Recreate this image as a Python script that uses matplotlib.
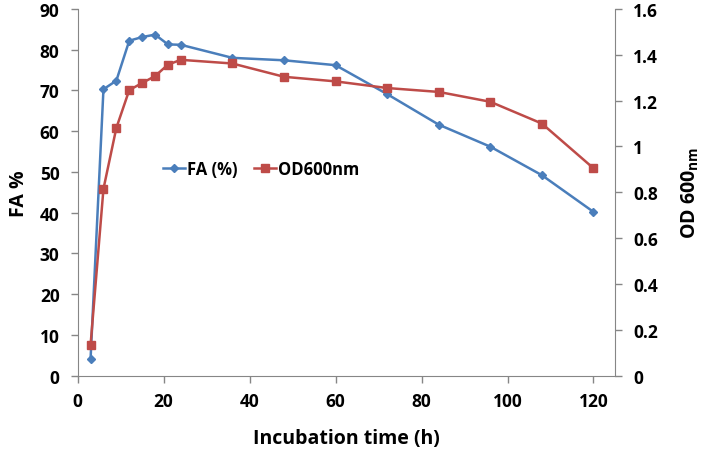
import matplotlib
matplotlib.use("Agg")
import matplotlib.pyplot as plt

time_h = [3, 6, 9, 12, 15, 18, 21, 24, 36, 48, 60, 72, 84, 96, 108, 120]
fa_pct = [4.1, 70.3, 72.4, 82.2, 83.1, 83.7, 81.3, 81.2, 78.0, 77.4, 76.2, 69.1, 61.6, 56.2, 49.2, 40.2]
od600 = [0.134, 0.815, 1.081, 1.246, 1.277, 1.307, 1.357, 1.378, 1.362, 1.304, 1.284, 1.255, 1.238, 1.195, 1.10, 0.905]

left_ticks = [0, 10, 20, 30, 40, 50, 60, 70, 80, 90]
right_ticks = [0, 0.2, 0.4, 0.6, 0.8, 1.0, 1.2, 1.4, 1.6]
right_labels = ["0", "0.2", "0.4", "0.6", "0.8", "1", "1.2", "1.4", "1.6"]
x_ticks = [0, 20, 40, 60, 80, 100, 120]

plt.rcParams['font.family'] = ['Open Sans', 'DejaVu Sans']
plt.rcParams['font.weight'] = 'bold'

fig = plt.figure(figsize=(7.08, 4.52), dpi=100)
ax = fig.add_axes([0.1097, 0.1666, 0.7589, 0.8114])
ax2 = ax.twinx()

blue = '#4A7EBB'
red = '#BE4B48'
l1, = ax.plot(time_h, fa_pct, color=blue, lw=1.8, marker='D', ms=4, label='FA (%)')
l2, = ax2.plot(time_h, od600, color=red, lw=1.8, marker='s', ms=6, label='OD600nm')

ax.set_xlim(0, 125)
ax.set_ylim(0, 90)
ax2.set_ylim(0, 1.6)
ax.set_xticks(x_ticks)
ax.set_yticks(left_ticks)
ax2.set_yticks(right_ticks)
ax2.set_yticklabels(right_labels)

spine_c = '#868686'
for a in (ax, ax2):
    for s in a.spines.values():
        s.set_color(spine_c)
    a.spines['top'].set_visible(False)
    a.tick_params(colors=spine_c, labelcolor='black', labelsize=12.5, length=5, width=1)
ax.tick_params(axis='x', pad=7)
ax.tick_params(axis='y', pad=8)
ax2.tick_params(axis='y', pad=8)
ax.spines['right'].set_visible(False)
ax2.spines['left'].set_visible(False)
ax2.spines['bottom'].set_visible(False)

for lab in ax.get_xticklabels() + ax.get_yticklabels() + ax2.get_yticklabels():
    lab.set_fontweight('bold')

ax.set_xlabel('Incubation time (h)', fontsize=14, fontweight='bold', labelpad=13)
ax.set_ylabel('FA %', fontsize=14, fontweight='bold', labelpad=8)
ax2.set_ylabel('OD 600$_{\\mathregular{nm}}$', fontsize=14, fontweight='bold', labelpad=16)

fig.legend(handles=[l1, l2], loc='center', bbox_to_anchor=(0.369, 0.624), ncol=2,
           frameon=False, fontsize=12, handlelength=1.3, handletextpad=0.15, columnspacing=1.0)

fig.savefig('out.png', dpi=100)
